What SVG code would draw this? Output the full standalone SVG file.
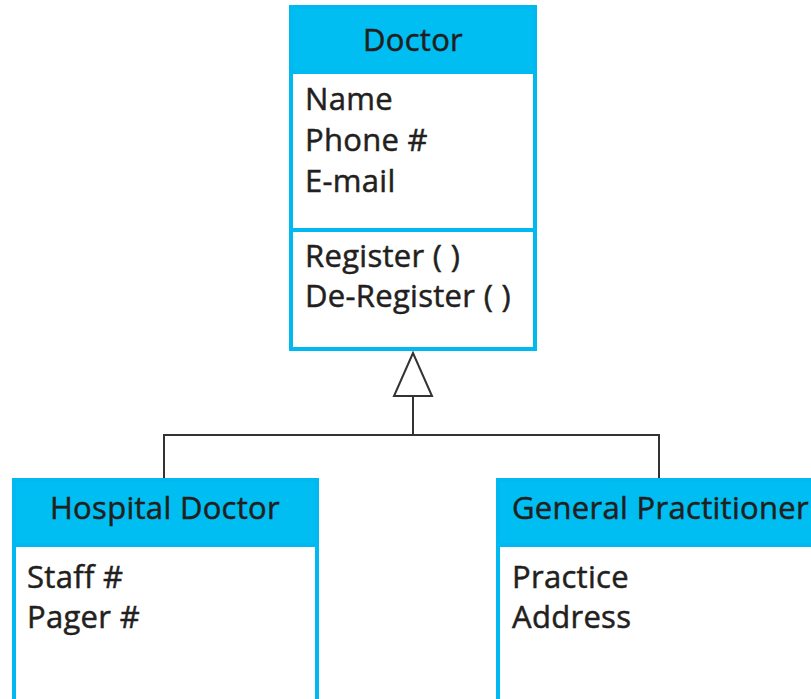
<svg xmlns="http://www.w3.org/2000/svg" width="811" height="699" viewBox="0 0 811 699">
<style>
.box{fill:#ffffff;stroke:#00B9F0;stroke-width:4}
.hdr{fill:#00BDF2}
.sep{stroke:#00B9F0;stroke-width:4}
.t{font-family:"Open Sans","Noto Sans",sans-serif;font-size:31px;letter-spacing:0.3px;fill:#231F20;stroke:#231F20;stroke-width:0.5}
.c{text-anchor:middle}
.conn{fill:none;stroke:#333333;stroke-width:2}
</style>
<rect width="811" height="699" fill="#ffffff"/>
<g id="doctor">
<rect class="box" x="291" y="7" width="244" height="342"/>
<rect class="hdr" x="293" y="9" width="240" height="63"/>
<line class="sep" x1="291" y1="72" x2="535" y2="72" stroke-width="2"/>
<line class="sep" x1="291" y1="230" x2="535" y2="230"/>
<text class="t c" x="413" y="51">Doctor</text>
<text class="t" x="305" y="110">Name</text>
<text class="t" x="305" y="151">Phone #</text>
<text class="t" x="305" y="192">E-mail</text>
<text class="t" x="305" y="267">Register ( )</text>
<text class="t" x="305" y="307">De-Register ( )</text>
</g>
<g id="hospital-doctor">
<rect class="box" x="14" y="480" width="303" height="250"/>
<rect class="hdr" x="16" y="482" width="299" height="63"/>
<line class="sep" x1="14" y1="545" x2="317" y2="545" stroke-width="2"/>
<text class="t c" x="165" y="519">Hospital Doctor</text>
<text class="t" x="27" y="588">Staff #</text>
<text class="t" x="27" y="628">Pager #</text>
</g>
<g id="general-practitioner">
<rect class="box" x="498" y="480" width="340" height="250"/>
<rect class="hdr" x="500" y="482" width="336" height="63"/>
<line class="sep" x1="498" y1="545" x2="838" y2="545" stroke-width="2"/>
<text class="t" x="512" y="519">General Practitioner</text>
<text class="t" x="512" y="588">Practice</text>
<text class="t" x="512" y="628">Address</text>
</g>
<g id="connectors">
<polygon class="conn" points="413,353 394,396 432,396"/>
<line class="conn" x1="413" y1="396" x2="413" y2="435"/>
<polyline class="conn" points="164,478 164,435 659,435 659,478"/>
</g>
</svg>
